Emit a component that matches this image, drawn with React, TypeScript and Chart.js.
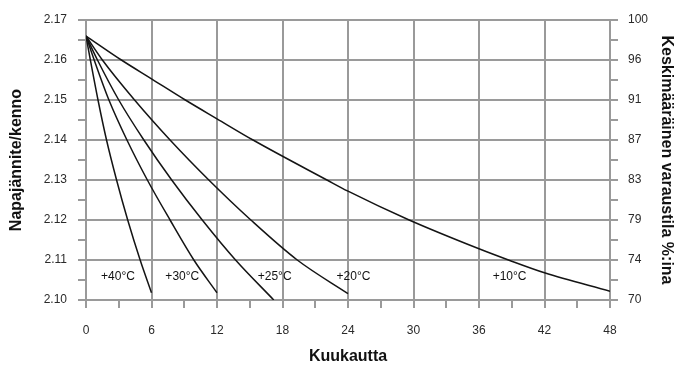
import React, { useEffect, useRef } from "react";
import { Chart, registerables } from "chart.js";

Chart.register(...registerables);

// Months where each curve was read, and the voltage (V/cell) at those months
const months40 = [0, 0.4, 1.1, 1.88, 2.8, 3.82, 4.96, 6];
const volts40 = [2.166, 2.16, 2.15, 2.14, 2.13, 2.12, 2.11, 2.1018];
const months30 = [0, 0.75, 2.1, 3.75, 5.62, 7.7, 9.88, 12];
const volts30 = [2.166, 2.16, 2.15, 2.14, 2.13, 2.12, 2.11, 2.1018];
const months25 = [0, 1.05, 3.0, 5.3, 7.85, 10.65, 13.7, 17.2];
const volts25 = [2.166, 2.16, 2.15, 2.14, 2.13, 2.12, 2.11, 2.1];
const months20 = [0, 1.5, 4.45, 7.7, 11.25, 15.1, 19.35, 24];
const volts20 = [2.166, 2.16, 2.15, 2.14, 2.13, 2.12, 2.11, 2.1016];
const months10 = [0, 3.24, 6, 9.1, 12, 15.3, 22.07, 24, 29.6, 36, 38.7, 42, 48];
const volts10 = [2.166, 2.16, 2.1553, 2.15, 2.1453, 2.14, 2.13, 2.1272, 2.12, 2.1128, 2.11, 2.1068, 2.1022];

// Curve labels
const curveLabels = ["+40°C", "+30°C", "+25°C", "+20°C", "+10°C"];
const labelMonths = [2.93, 8.82, 17.28, 24.5, 38.8];
const labelVolts = [2.1058, 2.1058, 2.1058, 2.1058, 2.1058];

// Axis tick labels
const leftTickLabels = ["2.10", "2.11", "2.12", "2.13", "2.14", "2.15", "2.16", "2.17"];
const rightTickLabels = ["70", "74", "79", "83", "87", "91", "96", "100"];

const xTitle = "Kuukautta";
const yTitle = "Napajännite/kenno";
const y2Title = "Keskimääräinen varaustila %:ina";

const GRID = "#9a9a9a";
const TEXT = "#2a2a2a";
const FONT = "'Liberation Sans', Arial, sans-serif";

const toPts = (xs: number[], ys: number[]) => xs.map((x, i) => ({ x, y: ys[i] }));

export default function App() {
  const ref = useRef<HTMLCanvasElement | null>(null);

  useEffect(() => {
    if (!ref.current) return;
    const series = [
      toPts(months40, volts40),
      toPts(months30, volts30),
      toPts(months25, volts25),
      toPts(months20, volts20),
      toPts(months10, volts10),
    ];
    const labelPlugin = {
      id: "curveLabels",
      afterDatasetsDraw(chart: any) {
        const { ctx, scales } = chart;
        ctx.save();
        ctx.font = `12px ${FONT}`;
        ctx.fillStyle = "#111";
        ctx.textAlign = "center";
        ctx.textBaseline = "middle";
        curveLabels.forEach((t, i) => {
          ctx.fillText(t, scales.x.getPixelForValue(labelMonths[i]), scales.y.getPixelForValue(labelVolts[i]));
        });
        ctx.restore();
      },
    };
    const tickIdx = (v: number) => {
      const k = Math.round(v * 1000);
      if (k % 10 !== 0) return -1;
      return Math.round((k - 2100) / 10);
    };
    const chart = new Chart(ref.current, {
      type: "line",
      data: {
        datasets: series.map((d, i) => ({
          label: curveLabels[i],
          data: d,
          borderColor: "#141414",
          borderWidth: 1.5,
          pointRadius: 0,
          fill: false,
          cubicInterpolationMode: "monotone" as const,
          yAxisID: "y",
        })),
      },
      options: {
        responsive: false,
        animation: false,
        layout: { padding: { top: 20, left: 0, right: 0, bottom: 0 } },
        plugins: { legend: { display: false }, tooltip: { enabled: false } },
        scales: {
          x: {
            type: "linear",
            min: 0,
            max: 48,
            afterFit: (s: any) => { s.height = 72; },
            border: { color: GRID, width: 2 },
            grid: {
              color: (c: any) => (c.tick && c.tick.value % 6 === 0 ? GRID : "rgba(0,0,0,0)"),
              lineWidth: 2,
              tickColor: GRID,
              tickLength: 8,
            },
            ticks: {
              stepSize: 3,
              autoSkip: false,
              maxRotation: 0,
              padding: 15,
              color: TEXT,
              font: { family: FONT, size: 12 },
              callback: (v: any) => (Number(v) % 6 === 0 ? String(v) : ""),
            },
            title: {
              display: true,
              text: xTitle,
              color: "#111",
              font: { family: FONT, size: 16, weight: "bold" },
              padding: { top: 0, bottom: 6 },
            },
          },
          y: {
            type: "linear",
            position: "left",
            min: 2.1,
            max: 2.17,
            afterFit: (s: any) => { s.width = 86; },
            border: { color: GRID, width: 2 },
            grid: {
              color: (c: any) => (c.tick && tickIdx(c.tick.value) >= 0 ? GRID : "rgba(0,0,0,0)"),
              lineWidth: 2,
              tickColor: GRID,
              tickLength: 8,
            },
            ticks: {
              stepSize: 0.005,
              autoSkip: false,
              padding: 11,
              color: TEXT,
              font: { family: FONT, size: 12 },
              callback: (v: any) => {
                const i = tickIdx(Number(v));
                return i >= 0 ? leftTickLabels[i] : "";
              },
            },
            title: {
              display: true,
              text: yTitle,
              color: "#111",
              font: { family: FONT, size: 16, weight: "bold" },
              padding: { top: 7, bottom: 0 },
            },
          },
          y2: {
            type: "linear",
            position: "right",
            min: 2.1,
            max: 2.17,
            afterFit: (s: any) => { s.width = 64; },
            border: { color: GRID, width: 2 },
            grid: {
              drawOnChartArea: false,
              lineWidth: 2,
              color: GRID,
              tickColor: GRID,
              tickLength: 8,
            },
            ticks: {
              stepSize: 0.005,
              autoSkip: false,
              padding: 10,
              color: TEXT,
              font: { family: FONT, size: 12 },
              callback: (v: any) => {
                const i = tickIdx(Number(v));
                return i >= 0 ? rightTickLabels[i] : "";
              },
            },
            title: {
              display: true,
              text: y2Title,
              color: "#111",
              font: { family: FONT, size: 16, weight: "bold", lineHeight: 1 },
              padding: { top: 0, bottom: 0 },
            },
          },
        },
      },
      plugins: [labelPlugin],
    } as any);
    return () => chart.destroy();
  }, []);

  return (
    <div style={{ position: "fixed", left: 0, top: 0, width: 674, height: 372, background: "#fff" }}>
      <canvas ref={ref} width={674} height={372} style={{ width: 674, height: 372 }} />
    </div>
  );
}
